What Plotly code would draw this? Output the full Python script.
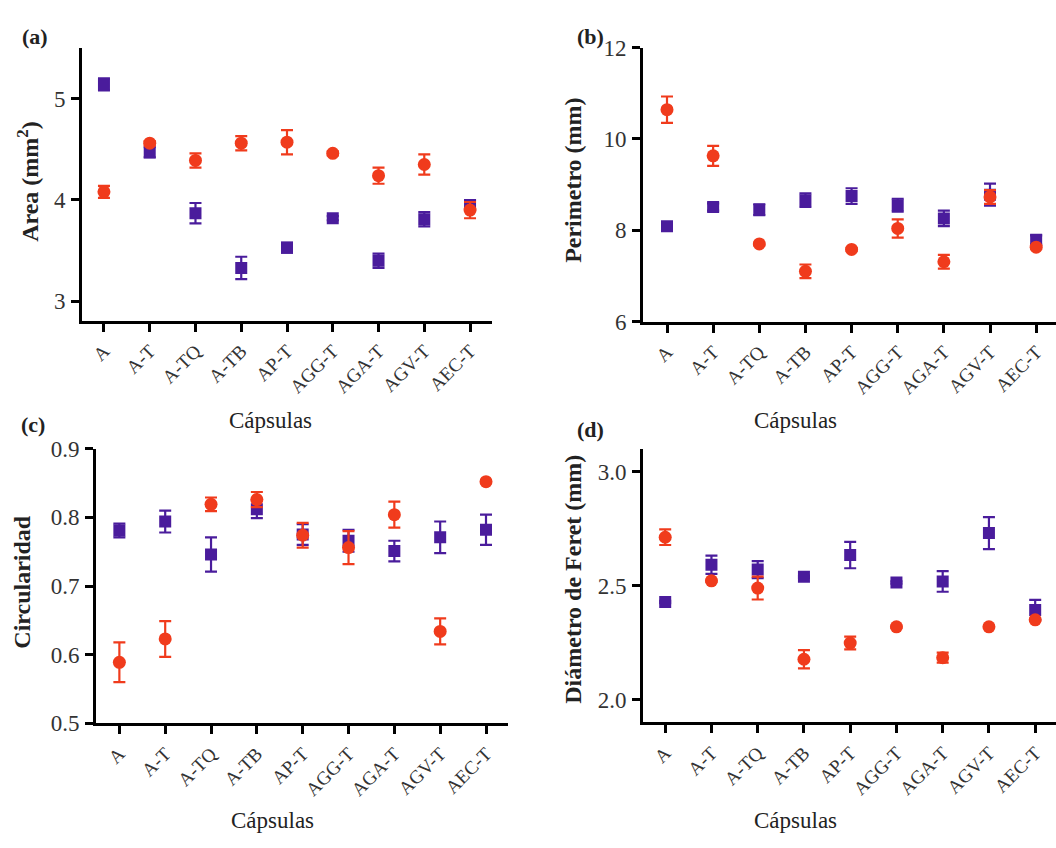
import plotly.graph_objects as go

categories = ["A", "A-T", "A-TQ", "A-TB", "AP-T", "AGG-T", "AGA-T", "AGV-T", "AEC-T"]

# (a) Area (mm2)
area_purple = [5.14, 4.47, 3.87, 3.33, 3.53, 3.82, 3.40, 3.81, 3.95]
area_purple_err = [0.06, 0.05, 0.10, 0.11, 0.05, 0.02, 0.07, 0.07, 0.05]
area_orange = [4.08, 4.56, 4.39, 4.56, 4.57, 4.46, 4.24, 4.35, 3.90]
area_orange_err = [0.06, 0.02, 0.07, 0.07, 0.12, 0.02, 0.08, 0.10, 0.08]

# (b) Perimetro (mm)
per_purple = [8.09, 8.51, 8.45, 8.66, 8.75, 8.55, 8.26, 8.78, 7.79]
per_purple_err = [0.03, 0.08, 0.12, 0.15, 0.17, 0.14, 0.17, 0.24, 0.10]
per_orange = [10.64, 9.63, 7.70, 7.10, 7.58, 8.04, 7.31, 8.73, 7.63]
per_orange_err = [0.29, 0.22, 0.03, 0.15, 0.03, 0.20, 0.15, 0.15, 0.03]

# (c) Circularidad
cir_purple = [0.781, 0.794, 0.746, 0.812, 0.775, 0.766, 0.751, 0.771, 0.782]
cir_purple_err = [0.010, 0.016, 0.025, 0.013, 0.015, 0.016, 0.015, 0.023, 0.022]
cir_orange = [0.589, 0.623, 0.819, 0.826, 0.774, 0.756, 0.804, 0.634, 0.852]
cir_orange_err = [0.029, 0.026, 0.010, 0.011, 0.018, 0.024, 0.019, 0.019, 0.002]

# (d) Diametro de Feret (mm)
fer_purple = [2.428, 2.591, 2.570, 2.539, 2.634, 2.513, 2.518, 2.730, 2.393]
fer_purple_err = [0.005, 0.040, 0.037, 0.005, 0.058, 0.005, 0.045, 0.070, 0.044]
fer_orange = [2.712, 2.521, 2.489, 2.177, 2.248, 2.319, 2.184, 2.319, 2.350]
fer_orange_err = [0.034, 0.005, 0.050, 0.040, 0.028, 0.005, 0.022, 0.005, 0.005]

PURPLE = "#4a1c9c"
ORANGE = "#f03b1c"
FONT = "'Liberation Serif', 'DejaVu Serif', serif"

panels = [
    (area_purple, area_purple_err, area_orange, area_orange_err),
    (per_purple, per_purple_err, per_orange, per_orange_err),
    (cir_purple, cir_purple_err, cir_orange, cir_orange_err),
    (fer_purple, fer_purple_err, fer_orange, fer_orange_err),
]

fig = go.Figure()
for i, (pv, pe, ov, oe) in enumerate(panels):
    ax = "" if i == 0 else str(i + 1)
    fig.add_trace(go.Scatter(
        x=categories, y=pv, mode="markers", xaxis="x" + ax, yaxis="y" + ax,
        marker=dict(symbol="square", size=12, color=PURPLE),
        error_y=dict(type="data", array=pe, color=PURPLE, thickness=2.2, width=6),
        showlegend=False))
    fig.add_trace(go.Scatter(
        x=categories, y=ov, mode="markers", xaxis="x" + ax, yaxis="y" + ax,
        marker=dict(symbol="circle", size=13, color=ORANGE),
        error_y=dict(type="data", array=oe, color=ORANGE, thickness=2.2, width=6),
        showlegend=False))

W, H = 1056, 848

def fx(px):
    return px / W

def fy(py):
    return 1 - py / H

axis_common = dict(showline=True, linecolor="black", linewidth=3, ticks="outside",
                   ticklen=8, tickwidth=3, tickcolor="black", showgrid=False,
                   zeroline=False, ticklabelstandoff=1,
                   tickfont=dict(family=FONT, size=23, color="#333"))

xcommon = dict(axis_common, type="category", tickangle=-45,
               tickfont=dict(family=FONT, size=19, color="#333"))

layout = dict(
    width=W, height=H, margin=dict(l=0, r=0, t=0, b=0),
    paper_bgcolor="white", plot_bgcolor="white",
    font=dict(family=FONT, color="#222"),
    xaxis=dict(xcommon, domain=[fx(82), fx(492)], range=[-0.48, 8.48], anchor="y"),
    yaxis=dict(axis_common, domain=[fy(318), fy(37)], range=[2.81, 5.5], tickvals=[3, 4, 5], anchor="x"),
    xaxis2=dict(xcommon, domain=[fx(643), 1.0], range=[-0.52, 8.43], anchor="y2"),
    yaxis2=dict(axis_common, domain=[fy(319), fy(36.7)], range=[6, 12], tickvals=[6, 8, 10, 12], anchor="x2"),
    xaxis3=dict(xcommon, domain=[fx(96), fx(508)], range=[-0.51, 8.48], anchor="y3"),
    yaxis3=dict(axis_common, domain=[fy(733), fy(450)], range=[0.5, 0.9], tickvals=[0.5, 0.6, 0.7, 0.8, 0.9],
                tickformat=".1f", anchor="x3"),
    xaxis4=dict(xcommon, domain=[fx(643), 1.0], range=[-0.48, 8.45], anchor="y4"),
    yaxis4=dict(axis_common, domain=[fy(732), fy(450)], range=[1.9, 3.1], tickvals=[2.0, 2.5, 3.0],
                tickformat=".1f", anchor="x4"),
)
fig.update_layout(**layout)

ann = []
def add_text(text, x, y, size, bold=False, angle=0):
    ann.append(dict(text=("<b>%s</b>" % text) if bold else text, x=fx(x), y=fy(y),
                    xref="paper", yref="paper", showarrow=False, textangle=angle,
                    font=dict(family=FONT, size=size, color="#222"),
                    xanchor="center", yanchor="middle"))

add_text("(a)", 35, 25, 22, bold=True)
add_text("(b)", 590, 25, 22, bold=True)
add_text("(c)", 33, 425, 22, bold=True)
add_text("(d)", 590, 430, 22, bold=True)

add_text("Area (mm<sup>2</sup>)", 28, 175, 24, bold=True, angle=-90)
add_text("Perimetro (mm)", 573, 174, 24, bold=True, angle=-90)
add_text("Circularidad", 22, 587, 24, bold=True, angle=-90)
add_text("Diámetro de Feret (mm)", 573, 585, 24, bold=True, angle=-90)

add_text("Cápsulas", 270, 421, 23)
add_text("Cápsulas", 795, 421, 23)
add_text("Cápsulas", 272, 833, 23)
add_text("Cápsulas", 795, 833, 23)

fig.update_layout(annotations=ann)
fig.write_html("out.html")
